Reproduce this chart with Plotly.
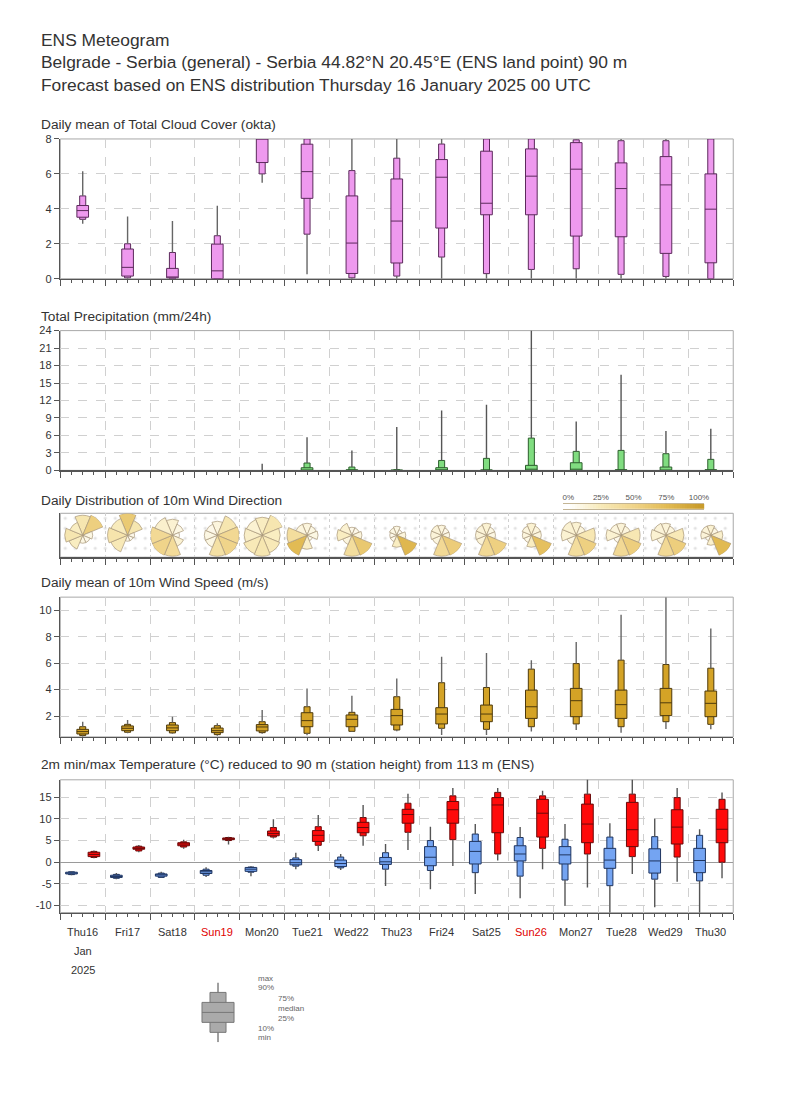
import plotly.graph_objects as go

W, H = 790, 1113
FONT = "Liberation Sans, Arial, Helvetica, sans-serif"

# ---------------- data ----------------
DAYS = ["Thu16", "Fri17", "Sat18", "Sun19", "Mon20", "Tue21", "Wed22", "Thu23",
        "Fri24", "Sat25", "Sun26", "Mon27", "Tue28", "Wed29", "Thu30"]

cloud_min = [3.15, 0.0, 0.0, 0.0, 5.5, 0.25, 0.0, 0.0, 0.0, 0.0, 0.0, 0.0, 0.0, 0.0, 0.0]
cloud_p10 = [3.4, 0.05, 0.0, 0.0, 6.0, 2.55, 0.05, 0.15, 1.24, 0.29, 0.53, 0.57, 0.25, 0.13, 0.0]
cloud_p25 = [3.52, 0.15, 0.05, 0.0, 6.65, 4.6, 0.3, 0.9, 2.9, 3.66, 3.66, 2.44, 2.4, 1.45, 0.91]
cloud_med = [3.9, 0.65, 0.1, 0.45, 8.0, 6.13, 2.04, 3.3, 5.81, 4.32, 5.87, 6.27, 5.16, 5.37, 3.98]
cloud_p75 = [4.19, 1.7, 0.59, 1.98, 8.0, 7.7, 4.74, 5.71, 6.82, 7.3, 7.43, 7.79, 6.63, 6.99, 6.0]
cloud_p90 = [4.74, 2.0, 1.5, 2.46, 8.0, 8.0, 6.19, 6.9, 7.71, 8.0, 8.0, 7.95, 7.9, 7.9, 8.0]
cloud_max = [6.15, 3.56, 3.31, 4.17, 8.0, 8.0, 8.0, 8.0, 8.0, 8.0, 8.0, 8.0, 8.0, 8.0, 8.0]

prec_min = [0.0] * 15
prec_p10 = [0.0] * 15
prec_p25 = [0.0] * 15
prec_med = [0, 0, 0, 0, 0, 0.05, 0, 0, 0.1, 0.05, 0.2, 0.2, 0.05, 0.05, 0.05]
prec_p75 = [0, 0, 0, 0, 0, 0.45, 0.1, 0.05, 0.46, 0.05, 0.86, 1.31, 0.1, 0.57, 0.1]
prec_p90 = [0, 0, 0, 0, 0, 1.26, 0.57, 0.1, 1.7, 2.06, 5.54, 3.26, 3.43, 2.86, 1.89]
prec_max = [0, 0, 0, 0, 1.14, 5.7, 3.43, 7.43, 10.3, 11.26, 24.0, 8.4, 16.4, 6.74, 7.14]

wind_min = [0.44, 0.7, 0.65, 0.5, 0.65, 0.55, 0.8, 0.85, 0.57, 0.57, 0.82, 0.94, 0.74, 1.02, 0.99]
wind_p10 = [0.52, 0.77, 0.72, 0.59, 0.74, 0.69, 0.84, 0.94, 1.07, 0.99, 1.19, 1.4, 1.19, 1.57, 1.37]
wind_p25 = [0.64, 0.89, 0.89, 0.74, 0.87, 1.19, 1.19, 1.32, 1.4, 1.57, 1.82, 1.95, 1.82, 2.03, 1.95]
wind_med = [0.82, 1.07, 1.1, 0.89, 1.17, 1.65, 1.75, 2.03, 2.15, 2.15, 2.7, 3.16, 2.86, 3.0, 2.96]
wind_p75 = [0.99, 1.25, 1.32, 1.09, 1.35, 2.25, 2.08, 2.5, 2.63, 2.83, 3.96, 4.09, 3.96, 4.09, 3.89]
wind_p90 = [1.19, 1.37, 1.5, 1.27, 1.57, 2.7, 2.28, 3.46, 4.52, 4.16, 5.55, 5.97, 6.23, 5.9, 5.62]
wind_max = [1.57, 1.7, 1.95, 1.45, 2.45, 4.09, 3.53, 4.84, 6.48, 6.78, 6.23, 7.61, 9.67, 11.0, 8.62]

tmin_min = [-3.0, -3.9, -3.6, -3.4, -3.2, -1.6, -1.8, -5.5, -6.2, -7.3, -8.3, -10.0, -11.8, -10.4, -12.0]
tmin_p10 = [-2.85, -3.7, -3.5, -3.0, -2.3, -0.9, -1.3, -1.6, -1.9, -2.4, -3.2, -4.1, -5.4, -3.9, -4.3]
tmin_p25 = [-2.7, -3.5, -3.2, -2.6, -2.1, -0.6, -1.0, -0.5, -0.8, -0.4, 0.3, -0.4, -1.4, -2.5, -2.4]
tmin_med = [-2.5, -3.3, -2.9, -2.2, -1.6, -0.1, -0.3, 0.1, 1.15, 2.5, 1.9, 1.7, 0.5, 0.3, 0.4]
tmin_p75 = [-2.3, -3.0, -2.7, -1.9, -1.2, 0.6, 0.5, 1.1, 3.6, 4.8, 3.8, 3.6, 3.2, 3.1, 3.2]
tmin_p90 = [-2.2, -2.8, -2.5, -1.6, -1.1, 1.0, 1.2, 2.2, 5.0, 6.5, 5.7, 5.3, 5.8, 5.9, 6.2]
tmin_max = [-2.1, -2.5, -2.2, -1.15, -0.9, 2.2, 1.9, 4.2, 8.2, 8.8, 8.1, 8.8, 9.0, 10.0, 7.6]

tmax_min = [0.9, 2.3, 3.1, 4.1, 5.5, 2.6, 3.8, 2.8, -0.85, 0.4, -1.6, -5.8, -2.7, -4.5, -3.7]
tmax_p10 = [1.1, 2.6, 3.5, 5.0, 5.8, 3.9, 6.1, 6.9, 5.2, 1.9, 3.2, 1.9, 1.3, 1.2, 0.0]
tmax_p25 = [1.3, 3.0, 3.8, 5.2, 6.1, 4.8, 6.8, 9.0, 9.0, 6.8, 5.8, 4.5, 3.6, 4.2, 4.5]
tmax_med = [1.8, 3.2, 4.2, 5.4, 6.6, 6.2, 8.0, 11.0, 12.1, 13.2, 11.3, 8.8, 7.5, 8.1, 7.6]
tmax_p75 = [2.3, 3.5, 4.5, 5.6, 7.2, 7.3, 9.2, 12.2, 14.0, 14.9, 14.5, 13.4, 13.8, 12.1, 12.2]
tmax_p90 = [2.5, 3.7, 4.7, 5.7, 8.0, 8.2, 10.3, 13.6, 15.3, 16.1, 15.3, 15.7, 15.7, 14.9, 14.5]
tmax_max = [2.7, 4.0, 5.2, 5.9, 9.9, 10.9, 13.2, 15.8, 17.1, 17.1, 16.5, 19.5, 19.5, 17.1, 16.1]

TEMP_TICKS = [-10, -5, 0, 5, 10, 15]

# wind rose: sectors N, NE, E, SE, S, SW, W, NW
ROSE_DIRS = [0, 45, 90, 135, 180, 225, 270, 315]
rose_len = [
    [20, 22, 10, 8, 8, 15, 18, 14],
    [22, 16, 7, 6, 6, 18, 20, 18],
    [16, 12, 7, 12, 21, 22, 22, 19],
    [14, 21, 22, 22, 21, 13, 13, 12],
    [18, 22, 18, 19, 21, 20, 18, 17],
    [12, 10, 11, 6, 14, 22, 20, 12],
    [8, 8, 10, 22, 21, 10, 15, 13],
    [9, 6, 9, 22, 12, 7, 7, 8],
    [10, 8, 8, 22, 21, 10, 11, 11],
    [12, 9, 9, 22, 21, 11, 11, 11],
    [12, 10, 10, 22, 12, 8, 9, 10],
    [13, 10, 19, 22, 21, 10, 15, 15],
    [12, 10, 19, 22, 21, 8, 15, 12],
    [12, 10, 18, 22, 21, 10, 15, 13],
    [10, 8, 12, 22, 10, 6, 10, 10],
]
rose_pct = [
    [30, 55, 10, 8, 10, 22, 30, 22],
    [60, 30, 8, 6, 8, 26, 32, 24],
    [16, 10, 6, 16, 42, 50, 44, 18],
    [12, 30, 45, 50, 36, 10, 10, 8],
    [22, 30, 22, 26, 30, 26, 20, 16],
    [12, 10, 10, 6, 20, 75, 40, 12],
    [8, 8, 12, 62, 40, 12, 22, 16],
    [10, 6, 12, 78, 22, 8, 8, 10],
    [12, 8, 10, 58, 44, 12, 14, 14],
    [16, 10, 10, 54, 44, 14, 14, 14],
    [16, 12, 12, 70, 22, 10, 12, 12],
    [16, 12, 28, 54, 40, 10, 16, 16],
    [14, 12, 28, 56, 44, 8, 16, 12],
    [14, 12, 26, 56, 44, 10, 16, 14],
    [16, 10, 18, 76, 18, 6, 14, 14],
]

LEGEND_LABELS = ["min", "10%", "25%", "median", "75%", "90%", "max"]
legend_vals = [0, 1, 2, 3, 4, 5, 6]
PCT_TICKS = [0, 25, 50, 75, 100]

# ---------------- geometry ----------------
# the capture shrinks the page slightly; map target pixel positions to layout pixels
S = 0.991
OX, OY = 0.8, 4.8


def LX(x):
    return (x - OX) / S


def LY(y):
    return (y - OY) / S


X0, X1 = LX(60), LX(732)
XD = [X0 / W, X1 / W]


def ydom(top, bot):
    return [1 - LY(bot) / H, 1 - LY(top) / H]


def py(px):
    return 1 - LY(px) / H


def px_(x):
    return LX(x) / W


N = len(DAYS)
x_mid = [i + 0.5 for i in range(N)]
x_am = [i + 0.25 for i in range(N)]
x_pm = [i + 0.75 for i in range(N)]

fig = go.Figure()


def add_boxes(xs, mn, p10, p25, med, p75, p90, mx, xa, ya, fill, edge, whisk,
              wn=0.135, ww=0.26, lw=1.0):
    wx, wy = [], []
    for x, a, b, c, d in zip(xs, mn, p10, p90, mx):
        if b > a:
            wx += [x, x, None]; wy += [a, b, None]
        if d > c:
            wx += [x, x, None]; wy += [c, d, None]
    fig.add_trace(go.Scatter(x=wx, y=wy, mode="lines", line=dict(color=whisk, width=1.4),
                             xaxis=xa, yaxis=ya, hoverinfo="skip", showlegend=False))
    s1 = [i for i in range(len(xs)) if p90[i] > p10[i]]
    fig.add_trace(go.Bar(x=[xs[i] for i in s1], y=[p90[i] - p10[i] for i in s1],
                         base=[p10[i] for i in s1], width=wn,
                         marker=dict(color=fill, line=dict(color=edge, width=lw)),
                         xaxis=xa, yaxis=ya, hoverinfo="skip", showlegend=False))
    s2 = [i for i in range(len(xs)) if p75[i] > p25[i]]
    fig.add_trace(go.Bar(x=[xs[i] for i in s2], y=[p75[i] - p25[i] for i in s2],
                         base=[p25[i] for i in s2], width=ww,
                         marker=dict(color=fill, line=dict(color=edge, width=lw)),
                         xaxis=xa, yaxis=ya, hoverinfo="skip", showlegend=False))
    mxs, mys = [], []
    for i in s2:
        mxs += [xs[i] - ww / 2, xs[i] + ww / 2, None]
        mys += [med[i], med[i], None]
    fig.add_trace(go.Scatter(x=mxs, y=mys, mode="lines", line=dict(color=edge, width=1),
                             xaxis=xa, yaxis=ya, hoverinfo="skip", showlegend=False))


# cloud
add_boxes(x_mid, cloud_min, cloud_p10, cloud_p25, cloud_med, cloud_p75, cloud_p90, cloud_max,
          "x", "y", "#ee99ee", "#5c2a5c", "#666666")
# precipitation
add_boxes(x_mid, prec_min, prec_p10, prec_p25, prec_med, prec_p75, prec_p90, prec_max,
          "x2", "y2", "#80dd80", "#2d5e2d", "#555555")
# wind direction panel background stipple
fig.add_trace(go.Bar(x=[N / 2], y=[1], base=[0], width=N, xaxis="x3", yaxis="y3",
                     marker=dict(color="rgba(0,0,0,0)", line=dict(width=0),
                                 pattern=dict(shape=".", fgcolor="#c4c4c4", size=10,
                                              solidity=0.08, fillmode="overlay")),
                     hoverinfo="skip", showlegend=False))
# wind speed
add_boxes(x_mid, wind_min, wind_p10, wind_p25, wind_med, wind_p75, wind_p90, wind_max,
          "x4", "y4", "#d4a326", "#4e3a0c", "#666666")
# temperature
add_boxes(x_am, tmin_min, tmin_p10, tmin_p25, tmin_med, tmin_p75, tmin_p90, tmin_max,
          "x5", "y5", "#74a4f2", "#1f3560", "#555555")
add_boxes(x_pm, tmax_min, tmax_p10, tmax_p25, tmax_med, tmax_p75, tmax_p90, tmax_max,
          "x5", "y5", "#ff0a0a", "#6a0a0a", "#555555")
# legend glyph
add_boxes([0], [legend_vals[0]], [legend_vals[1]], [legend_vals[2]], [legend_vals[3]],
          [legend_vals[4]], [legend_vals[5]], [legend_vals[6]],
          "x6", "y6", "#aaaaaa", "#777777", "#777777", wn=0.8, ww=1.6)

# wind-direction colour key
ROSE_SCALE = [[0, "#ffffff"], [0.25, "#f8eab9"], [0.5, "#f0d48a"], [0.75, "#e2bb54"], [1, "#c99c2c"]]
key_x = list(range(-4, 105, 2))
fig.add_trace(go.Heatmap(x=key_x, y=[0], z=[[min(max(v, 0), 100) for v in key_x]],
                         colorscale=ROSE_SCALE, zmin=0, zmax=100, showscale=False,
                         xaxis="x7", yaxis="y7", hoverinfo="skip"))

# wind roses
for i in range(N):
    name = "polar" if i == 0 else f"polar{i + 1}"
    fig.add_trace(go.Barpolar(r=rose_len[i], theta=ROSE_DIRS, width=[45] * 8,
                              marker=dict(color=rose_pct[i], colorscale=ROSE_SCALE, cmin=0, cmax=100,
                                          line=dict(color="#a8977a", width=0.7)),
                              subplot=name, hoverinfo="skip", showlegend=False))

# ---------------- layout ----------------
GRID = "#d0d0d0"
AX = "#555555"


def xcfg(anchor, dom=XD, dash="dash"):
    return dict(domain=dom, range=[0, N], anchor=anchor, tickmode="linear", tick0=0, dtick=1,
                ticks="outside", ticklen=6, tickwidth=1, tickcolor=AX, showticklabels=False,
                showline=True, linecolor=AX, linewidth=1.5, showgrid=True, gridcolor=GRID,
                griddash=dash, gridwidth=1, zeroline=False, fixedrange=True,
                minor=dict(tickmode="linear", tick0=0, dtick=0.25, ticks="outside", ticklen=3,
                           tickcolor=AX, tickwidth=1, showgrid=False))


def ycfg(anchor, dom, rng, vals, zero=False):
    return dict(domain=dom, range=rng, anchor=anchor, tickmode="array", tickvals=vals,
                ticktext=[str(v) for v in vals],
                ticks="outside", ticklen=5, tickcolor=AX,
                tickfont=dict(size=11, color="#333", family=FONT),
                showline=True, linecolor=AX, linewidth=1.5, showgrid=True, gridcolor=GRID,
                griddash="dash", zeroline=zero, zerolinecolor="#9a9a9a", zerolinewidth=1,
                fixedrange=True)


PANELS = {
    "": (138, 278),
    "2": (330, 470),
    "3": (513, 557),
    "4": (597, 737),
    "5": (780, 913),
}

layout = dict(
    width=W, height=H, margin=dict(l=0, r=0, t=0, b=0),
    paper_bgcolor="white", plot_bgcolor="white", barmode="overlay",
    font=dict(family=FONT, color="#333"), showlegend=False,
)
layout["xaxis"] = xcfg("y")
layout["yaxis"] = ycfg("x", ydom(*PANELS[""]), [0, 8], [0, 2, 4, 6, 8])
layout["xaxis2"] = xcfg("y2")
layout["yaxis2"] = ycfg("x2", ydom(*PANELS["2"]), [0, 24], list(range(0, 25, 3)))
layout["xaxis3"] = xcfg("y3", dash="dot")
layout["yaxis3"] = dict(domain=ydom(*PANELS["3"]), range=[0, 1], anchor="x3", showticklabels=False,
                        ticks="", showgrid=False, showline=True, linecolor=AX, linewidth=1.5,
                        zeroline=False, fixedrange=True)
layout["xaxis4"] = xcfg("y4")
layout["yaxis4"] = ycfg("x4", ydom(*PANELS["4"]), [0.42, 11], [2, 4, 6, 8, 10])
layout["xaxis5"] = xcfg("y5")
layout["yaxis5"] = ycfg("x5", ydom(*PANELS["5"]), [-11.6, 19], TEMP_TICKS, zero=True)
# legend glyph axes
layout["xaxis6"] = dict(domain=[px_(197.5), px_(237.5)], range=[-1, 1], anchor="y6", visible=False,
                        fixedrange=True)
layout["yaxis6"] = dict(domain=ydom(983, 1043), range=[0, 6], anchor="x6", visible=False,
                        fixedrange=True)
# colour key axes
layout["xaxis7"] = dict(domain=[px_(562), px_(703)], range=[-4, 104], anchor="y7", side="top",
                        tickmode="array", tickvals=PCT_TICKS, ticktext=[f"{v}%" for v in PCT_TICKS],
                        ticks="", tickfont=dict(size=8, color="#555"), showline=True, mirror=True,
                        linecolor="#b5a27a", linewidth=0.8, showgrid=False, zeroline=False,
                        fixedrange=True)
layout["yaxis7"] = dict(domain=ydom(503.5, 509), range=[-0.5, 0.5], anchor="x7", visible=False,
                        fixedrange=True)

pd_y = ydom(*PANELS["3"])
for i in range(N):
    name = "polar" if i == 0 else f"polar{i + 1}"
    cx = 60 + (i + 0.5) * (732 - 60) / N
    layout[name] = dict(
        domain=dict(x=[px_(cx - 22), px_(cx + 22)], y=pd_y),
        bgcolor="rgba(0,0,0,0)",
        angularaxis=dict(visible=False, rotation=90, direction="clockwise"),
        radialaxis=dict(visible=False, range=[0, 22]),
    )

shapes = []
for suf in PANELS:
    shapes.append(dict(type="rect", xref=f"x{suf} domain", yref=f"y{suf} domain",
                       x0=0, x1=1, y0=0, y1=1, line=dict(color="#a8a8a8", width=1),
                       fillcolor="rgba(0,0,0,0)", layer="below"))
layout["shapes"] = shapes

ann = []


def text(t, x, y, size, color="#333", xanchor="left", xref="paper"):
    ann.append(dict(text=t, x=x, y=y, xref=xref, yref="paper", xanchor=xanchor, yanchor="middle",
                    showarrow=False, borderpad=0, font=dict(size=size, color=color, family=FONT)))


TS = 17.4
PS = 13.7
text("ENS Meteogram", px_(40), py(38.5), TS)
text("Belgrade - Serbia (general) - Serbia 44.82°N 20.45°E (ENS land point) 90 m", px_(40), py(60.5), TS)
text("Forecast based on ENS distribution Thursday 16 January 2025 00 UTC", px_(40), py(83.5), TS)
text("Daily mean of Total Cloud Cover (okta)", px_(40), py(124), PS)
text("Total Precipitation (mm/24h)", px_(40), py(315.5), PS)
text("Daily Distribution of 10m Wind Direction", px_(40), py(500.5), PS)
text("Daily mean of 10m Wind Speed (m/s)", px_(40), py(582.5), PS)
text("2m min/max Temperature (°C) reduced to 90 m (station height) from 113 m (ENS)", px_(40), py(764.5), PS)

for i, d in enumerate(DAYS):
    col = "#e00000" if d.startswith("Sun") else "#333"
    text(d, x_mid[i], py(932), 11, color=col, xanchor="center", xref="x5")
text("Jan", x_mid[0], py(951.5), 11, xanchor="center", xref="x5")
text("2025", x_mid[0], py(971), 11, xanchor="center", xref="x5")

# legend labels
LC = "#666666"
text(LEGEND_LABELS[6], px_(256), py(979), 8, color=LC)
text(LEGEND_LABELS[5], px_(256), py(988.5), 8, color=LC)
text(LEGEND_LABELS[4], px_(276.5), py(999.5), 8, color=LC)
text(LEGEND_LABELS[3], px_(276.5), py(1009.5), 8, color=LC)
text(LEGEND_LABELS[2], px_(276.5), py(1019), 8, color=LC)
text(LEGEND_LABELS[1], px_(256), py(1029), 8, color=LC)
text(LEGEND_LABELS[0], px_(256), py(1038.5), 8, color=LC)

layout["annotations"] = ann
fig.update_layout(**layout)
fig.write_html("out.html", config={"displayModeBar": False, "staticPlot": True},
               post_script="document.body.style.margin='0';document.body.style.padding='0';"
                           "document.documentElement.style.overflow='hidden';")
